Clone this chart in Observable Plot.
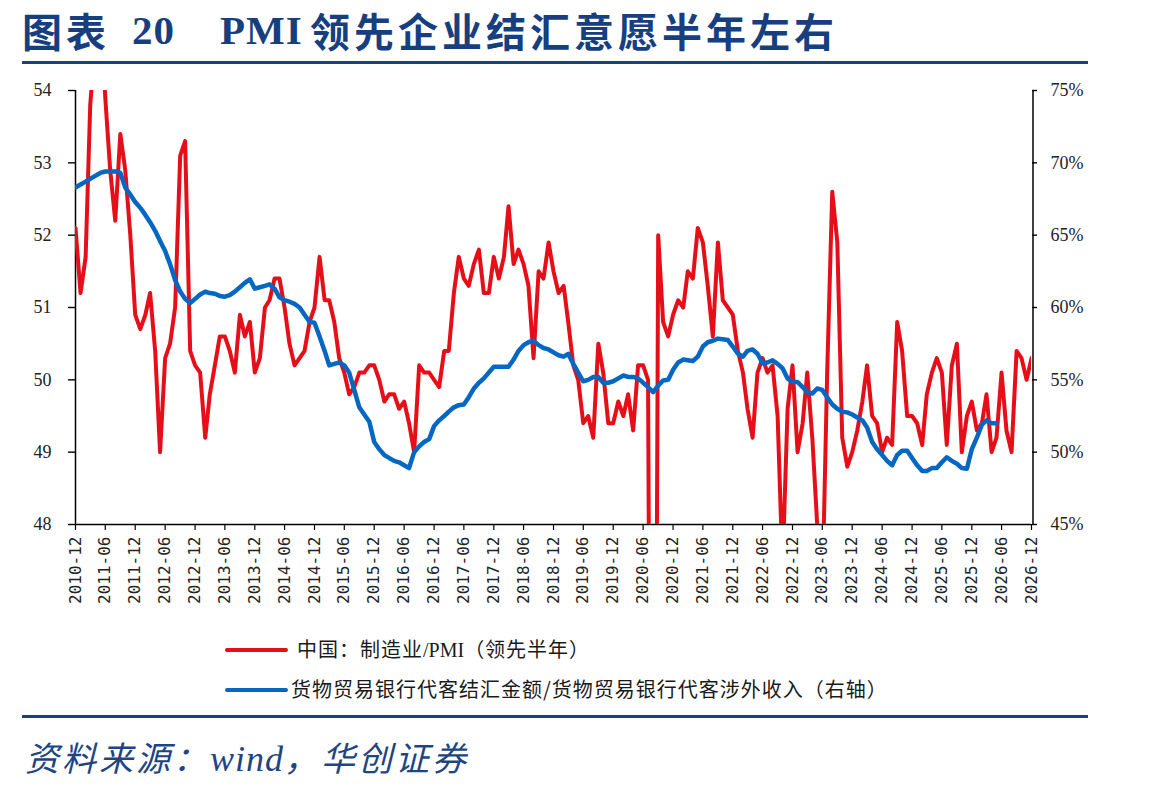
<!DOCTYPE html>
<html>
<head>
<meta charset="utf-8">
<script src="https://cdn.jsdelivr.net/npm/d3@7"></script>
<script src="https://cdn.jsdelivr.net/npm/@observablehq/plot@0.6"></script>
<style>
  body { margin: 0; background: #fff; }
  #page { position: relative; width: 1149px; height: 792px; overflow: hidden; font-family: "Noto Sans CJK SC", sans-serif; }
  .t { position: absolute; top: 1px; font-size: 40px; font-weight: 700; color: #173f7f; white-space: nowrap; line-height: 58px; letter-spacing: 4px; }
  .t.latin { font-family: "Liberation Serif", serif; font-size: 41px; letter-spacing: 1px; }
  .rule { position: absolute; left: 22px; width: 1066px; height: 3px; background: #1d3f7e; }
  #chart { position: absolute; left: 0; top: 70px; }
  .lg { position: absolute; font-size: 20px; color: #1a1a1a; white-space: nowrap; line-height: 24px; letter-spacing: 1px; }
  .lg .latin { font-family: "Liberation Serif", serif; font-size: 20px; letter-spacing: 0; }
  .sw { position: absolute; height: 4px; border-radius: 2px; }
  #source { position: absolute; left: 25px; top: 732px; font-size: 34px; font-style: italic; color: #1d4584; white-space: nowrap; letter-spacing: 3px; }
  #source .latin { font-family: "Liberation Serif", serif; font-size: 36px; letter-spacing: 1px; }
  g[aria-label="y-axis tick label"] { font-family: "Liberation Serif", serif; font-size: 18px; }
  g[aria-label="x-axis tick label"] { font-family: "DejaVu Sans Mono", monospace; font-size: 16px; }
</style>
</head>
<body>
<div id="page">
  <div class="t" style="left:22px">图表</div>
  <div class="t latin" style="left:132px">20</div>
  <div class="t latin" style="left:220px">PMI</div>
  <div class="t" style="left:310px">领先企业结汇意愿半年左右</div>
  <div class="rule" style="top:61px"></div>

  <div id="chart"></div>

  <div class="sw" style="left:225px; top:648px; width:63px; background:#e60f19"></div>
  <div class="lg" style="left:297px; top:637px">中国：制造业<span class="latin">/PMI</span>（领先半年）</div>
  <div class="sw" style="left:225px; top:688px; width:63px; background:#0567c2"></div>
  <div class="lg" style="left:291px; top:677px">货物贸易银行代客结汇金额/货物贸易银行代客涉外收入（右轴）</div>

  <div class="rule" style="top:715px"></div>
  <div id="source">资料来源：<span class="latin">wind</span>，华创证券</div>
</div>

<script>
// China manufacturing PMI, monthly from 2010-06; plotted six months ahead
const pmiStart = "2010-06";
const pmiLeadMonths = 6;
const pmi = [
  52.1, 51.2, 51.7, 53.8, 54.7, 55.2, 53.9,
  52.9, 52.2, 53.4, 52.9, 52.0, 50.9, 50.7, 50.9, 51.2, 50.4, 49.0, 50.3,
  50.5, 51.0, 53.1, 53.3, 50.4, 50.2, 50.1, 49.2, 49.8, 50.2, 50.6, 50.6,
  50.4, 50.1, 50.9, 50.6, 50.8, 50.1, 50.3, 51.0, 51.1, 51.4, 51.4, 51.0,
  50.5, 50.2, 50.3, 50.4, 50.8, 51.0, 51.7, 51.1, 51.1, 50.8, 50.3, 50.1,
  49.8, 49.9, 50.1, 50.1, 50.2, 50.2, 50.0, 49.7, 49.8, 49.8, 49.6, 49.7,
  49.4, 49.0, 50.2, 50.1, 50.1, 50.0, 49.9, 50.4, 50.4, 51.2, 51.7, 51.4,
  51.3, 51.6, 51.8, 51.2, 51.2, 51.7, 51.4, 51.7, 52.4, 51.6, 51.8, 51.6,
  51.3, 50.3, 51.5, 51.4, 51.9, 51.5, 51.2, 51.3, 50.8, 50.2, 50.0, 49.4,
  49.5, 49.2, 50.5, 50.1, 49.4, 49.4, 49.7, 49.5, 49.8, 49.3, 50.2, 50.2,
  50.0, 35.7, 52.0, 50.8, 50.6, 50.9, 51.1, 51.0, 51.5, 51.4, 52.1, 51.9,
  51.3, 50.6, 51.9, 51.1, 51.0, 50.9, 50.4, 50.1, 49.6, 49.2, 50.1, 50.3,
  50.1, 50.2, 49.5, 47.4, 49.6, 50.2, 49.0, 49.4, 50.1, 49.2, 48.0, 47.0,
  50.1, 52.6, 51.9, 49.2, 48.8, 49.0, 49.3, 49.7, 50.2, 49.5, 49.4, 49.0,
  49.2, 49.1, 50.8, 50.4, 49.5, 49.5, 49.4, 49.1, 49.8, 50.1, 50.3, 50.1,
  49.1, 50.2, 50.5, 49.0, 49.5, 49.7, 49.3, 49.4, 49.8, 49.0, 49.2, 50.1,
  49.3, 49.0, 50.4, 50.3, 50.0, 50.3
];

// Goods-trade FX settlement / goods-trade foreign receipts (%), monthly from 2010-12
const ratioStart = "2010-12";
const ratio = [
  68.3, 68.5, 68.7, 68.9, 69.1, 69.3, 69.4, 69.4, 69.4, 69.3, 68.3, 67.8,
  67.3, 66.9, 66.4, 65.9, 65.3, 64.6, 63.9, 63.0, 61.9, 61.1, 60.6, 60.3,
  60.6, 60.9, 61.1, 61.0, 60.95, 60.8, 60.75, 60.85, 61.1, 61.4, 61.7, 61.95,
  61.3, 61.4, 61.5, 61.6, 61.3, 60.7, 60.5, 60.4, 60.25, 60.0, 59.5, 59.0,
  58.95, 58.0, 57.0, 56.0, 56.1, 56.2, 56.0, 55.5, 54.3, 53.1, 52.6, 52.1,
  50.7, 50.2, 49.8, 49.6, 49.4, 49.3, 49.1, 48.9, 50.0, 50.4, 50.7, 50.9,
  51.8, 52.2, 52.5, 52.8, 53.1, 53.25, 53.3, 53.8, 54.4, 54.8, 55.1, 55.5,
  55.9, 55.9, 55.9, 55.9, 56.4, 57.0, 57.4, 57.6, 57.7, 57.4, 57.2, 57.1,
  56.9, 56.7, 56.6, 56.8, 56.1, 55.5, 54.9, 55.0, 55.2, 55.2, 54.8, 54.8,
  54.9, 55.1, 55.3, 55.2, 55.2, 55.1, 54.8, 54.5, 54.15, 54.6, 54.95, 55.0,
  55.7, 56.2, 56.4, 56.35, 56.3, 56.6, 57.3, 57.6, 57.7, 57.85, 57.8, 57.75,
  57.3, 56.8, 56.6, 57.0, 57.1, 56.8, 56.15, 56.2, 56.35, 56.1, 55.8, 55.1,
  54.85, 54.85, 54.5, 54.15, 54.05, 54.4, 54.3, 53.8, 53.3, 53.0, 52.8, 52.75,
  52.6, 52.4, 52.2, 51.7, 50.7, 50.2, 49.8, 49.4, 49.1, 49.8, 50.1, 50.1,
  49.6, 49.1, 48.7, 48.7, 48.9, 48.9, 49.3, 49.65, 49.4, 49.2, 48.9, 48.85,
  50.2, 51.0, 51.9, 52.2, 52.0, 52.0
];

const xTickLabels = [
  "2010-12", "2011-06", "2011-12", "2012-06", "2012-12", "2013-06", "2013-12",
  "2014-06", "2014-12", "2015-06", "2015-12", "2016-06", "2016-12", "2017-06",
  "2017-12", "2018-06", "2018-12", "2019-06", "2019-12", "2020-06", "2020-12",
  "2021-06", "2021-12", "2022-06", "2022-12", "2023-06", "2023-12", "2024-06",
  "2024-12", "2025-06", "2025-12", "2026-06", "2026-12"
];
const leftTicks = [48, 49, 50, 51, 52, 53, 54];
const rightTicks = [45, 50, 55, 60, 65, 70, 75];

const parseMonth = d3.utcParse("%Y-%m");
const fmtMonth = d3.utcFormat("%Y-%m");

// right-axis percentages mapped onto the left PMI scale
const leftDomain = [leftTicks[0], leftTicks[leftTicks.length - 1]];
const rightDomain = [rightTicks[0], rightTicks[rightTicks.length - 1]];
const toLeft = v => leftDomain[0] + (v - rightDomain[0]) * (leftDomain[1] - leftDomain[0]) / (rightDomain[1] - rightDomain[0]);
const toRight = y => rightDomain[0] + (y - leftDomain[0]) * (rightDomain[1] - rightDomain[0]) / (leftDomain[1] - leftDomain[0]);

const pmiRows = pmi.map((v, i) => ({ date: d3.utcMonth.offset(parseMonth(pmiStart), i + pmiLeadMonths), value: v }));
const ratioRows = ratio.map((v, i) => ({ date: d3.utcMonth.offset(parseMonth(ratioStart), i), value: v }));

const xTicks = xTickLabels.map(parseMonth);
const xDomain = [xTicks[0], xTicks[xTicks.length - 1]];

const chart = Plot.plot({
  width: 1149,
  height: 550,
  marginLeft: 75,
  marginRight: 118,
  marginTop: 20,
  marginBottom: 96,
  style: { color: "#000", background: "#fff", overflow: "visible" },
  x: { type: "utc", domain: xDomain, label: null },
  y: { domain: leftDomain, label: null },
  marks: [
    Plot.axisY(leftTicks, {
      anchor: "left", label: null, tickSize: 7, tickPadding: 17, strokeWidth: 1.4, fill: "#222",
      tickFormat: d => String(d)
    }),
    Plot.axisY(rightTicks.map(toLeft), {
      anchor: "right", label: null, tickSize: 5, tickPadding: 14, strokeWidth: 1.4, fill: "#222",
      tickFormat: d => Math.round(toRight(d)) + "%"
    }),
    Plot.axisX(xTicks, {
      anchor: "bottom", label: null, tickSize: 6, tickPadding: 6, tickRotate: -90, strokeWidth: 1.2, fill: "#222",
      tickFormat: fmtMonth
    }),
    Plot.ruleY([leftDomain[0]], { stroke: "#000", strokeWidth: 1.5 }),
    Plot.ruleX([xDomain[0]], { stroke: "#000", strokeWidth: 1.5 }),
    Plot.ruleX([xDomain[1]], { stroke: "#000", strokeWidth: 1.5, dx: 1.5 }),
    Plot.line(pmiRows, {
      x: "date", y: "value", stroke: "#e60f19", strokeWidth: 4,
      strokeLinejoin: "round", clip: true
    }),
    Plot.line(ratioRows, {
      x: "date", y: d => toLeft(d.value), stroke: "#0567c2", strokeWidth: 4.5,
      strokeLinejoin: "round", clip: true
    })
  ]
});

document.getElementById("chart").appendChild(chart);
</script>
</body>
</html>
